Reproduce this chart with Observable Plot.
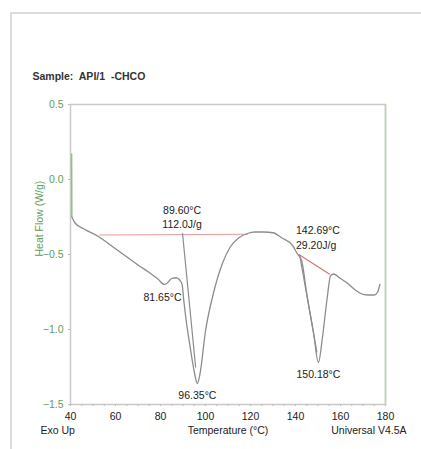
<!DOCTYPE html>
<html><head><meta charset="utf-8">
<script src="https://cdn.jsdelivr.net/npm/d3@7"></script>
<script src="https://cdn.jsdelivr.net/npm/@observablehq/plot@0.6"></script>
<style>
html,body{margin:0;padding:0;background:#fff;}
#wrap{position:relative;width:421px;height:449px;overflow:hidden;}
#border{position:absolute;left:10px;top:12px;width:430px;height:460px;border-left:2px solid #dcdcdc;border-top:2px solid #dcdcdc;}
svg{position:absolute;left:0;top:0;font-family:"Liberation Sans",Arial,sans-serif;}
</style></head>
<body><div id="wrap"><div id="border"></div></div>
<script>
// Main DSC curve
const temps = [40.6, 42, 46, 52.4, 58, 64, 70, 75, 79, 81.65, 83, 85, 87, 88.5, 89.6, 90.3, 91.5, 93, 94.5, 95.5, 96.35, 97.5, 100, 103.5, 107.5, 111, 114.7, 118.6, 122, 126, 130, 134, 138.7, 141, 142.7, 145, 148, 150.18, 152, 154, 155.6, 157, 160, 163, 166, 169, 172, 175, 176.5, 177.5];
const heatFlow = [-0.25, -0.29, -0.33, -0.38, -0.44, -0.505, -0.57, -0.62, -0.665, -0.70, -0.69, -0.66, -0.655, -0.67, -0.70, -0.80, -0.95, -1.10, -1.24, -1.32, -1.36, -1.30, -1.01, -0.76, -0.56, -0.45, -0.39, -0.36, -0.35, -0.35, -0.355, -0.39, -0.44, -0.50, -0.54, -0.76, -1.02, -1.22, -1.05, -0.80, -0.64, -0.63, -0.66, -0.69, -0.73, -0.76, -0.77, -0.77, -0.75, -0.70];
// initial transient (green)
const startT = [40.5, 40.6];
const startHF = [0.17, -0.25];
// integration baselines (red)
const base1T = [53, 118.6];
const base1HF = [-0.37, -0.365];
const base2T = [141.5, 155];
const base2HF = [-0.50, -0.63];
// onset tangents
const tan1T = [89.8, 95.6];
const tan1HF = [-0.36, -1.25];
const tan2T = [141.8, 149.5];
const tan2HF = [-0.50, -1.15];
// annotations
const notes = [
  {t: 89.6, h: -0.21, text: "89.60°C", anchor: "middle"},
  {t: 89.6, h: -0.21, text: "112.0J/g", anchor: "middle", dy: 14},
  {t: 80.9, h: -0.79, text: "81.65°C", anchor: "middle"},
  {t: 96.4, h: -1.44, text: "96.35°C", anchor: "middle"},
  {t: 140.2, h: -0.34, text: "142.69°C", anchor: "start"},
  {t: 140.2, h: -0.34, text: "29.20J/g", anchor: "start", dy: 15},
  {t: 150.18, h: -1.30, text: "150.18°C", anchor: "middle"}
];
const xTicks = [40, 60, 80, 100, 120, 140, 160, 180];
const yTicks = [0.5, 0.0, -0.5, -1.0, -1.5];

const curve = temps.map((t, i) => ({t, h: heatFlow[i]}));
const pairs = (a, b) => a.map((t, i) => ({t, h: b[i]}));
const green = "#5f9e58";
const fs = 10;

const chart = Plot.plot({
  width: 421, height: 449,
  marginLeft: 70, marginRight: 36, marginTop: 104, marginBottom: 45,
  style: {fontFamily: "Liberation Sans, Arial, sans-serif", fontSize: fs + "px", background: "transparent"},
  x: {domain: [40, 180]},
  y: {domain: [-1.5, 0.5]},
  marks: [
    Plot.frame({stroke: "#c9c9c9", strokeWidth: 1.5}),
    Plot.ruleX([180], {stroke: "#b9d6ad", strokeWidth: 1.5}),
    Plot.axisX(d3.range(40, 181, 5), {tickSize: 2, text: null, label: null, stroke: "#bbb"}),
    Plot.axisX(xTicks, {tickSize: 0, tickPadding: 8, fill: "#222", label: null, fontSize: 10.5}),
    Plot.axisY(yTicks, {tickSize: 2, tickPadding: 5, stroke: "#bbb", fill: green, tickFormat: d3.format(".1f"), label: null, fontSize: 10.5}),
    Plot.line(pairs(base1T, base1HF), {x: "t", y: "h", stroke: "#e99a9a", strokeWidth: 1.2}),
    Plot.line(pairs(base2T, base2HF), {x: "t", y: "h", stroke: "#d97272", strokeWidth: 1.2}),
    Plot.line(pairs(tan1T, tan1HF), {x: "t", y: "h", stroke: "#8c8c8c", strokeWidth: 1.2}),
    Plot.line(pairs(tan2T, tan2HF), {x: "t", y: "h", stroke: "#8c8c8c", strokeWidth: 1.2}),
    Plot.line(pairs(startT, startHF), {x: "t", y: "h", stroke: "#8cc47e", strokeWidth: 1.5}),
    Plot.line(curve, {x: "t", y: "h", stroke: "#8c8c8c", strokeWidth: 1.3, curve: "monotone-x"}),
    Plot.text(notes.filter(d => d.anchor === "middle" && !d.dy), {x: "t", y: "h", text: "text", textAnchor: "middle", fill: "#222", fontSize: 10.5}),
    Plot.text(notes.filter(d => d.anchor === "middle" && d.dy), {x: "t", y: "h", text: "text", textAnchor: "middle", dy: 14, fill: "#222", fontSize: 10.5}),
    Plot.text(notes.filter(d => d.anchor === "start" && !d.dy), {x: "t", y: "h", text: "text", textAnchor: "start", fill: "#222", fontSize: 10.5}),
    Plot.text(notes.filter(d => d.anchor === "start" && d.dy), {x: "t", y: "h", text: "text", textAnchor: "start", dy: 15, fill: "#222", fontSize: 10.5}),
    // titles around the frame
    Plot.text(["Sample:  API/1  -CHCO"], {frameAnchor: "top-left", dx: -38, dy: -32, textAnchor: "start", fontWeight: "bold", fill: "#333", fontSize: 10.5}),
    Plot.text(["Heat Flow (W/g)"], {frameAnchor: "left", dx: -31, dy: 2, rotate: -90, fill: green, fontSize: 10.5}),
    Plot.text(["Exo Up"], {frameAnchor: "bottom-left", dx: -30, dy: 29, textAnchor: "start", fill: "#222", fontSize: 10.5}),
    Plot.text(["Temperature (°C)"], {frameAnchor: "bottom", dx: 0, dy: 29, fill: "#222", fontSize: 10.5}),
    Plot.text(["Universal V4.5A"], {frameAnchor: "bottom-right", dx: 21, dy: 29, textAnchor: "end", fill: "#222", fontSize: 10.5})
  ]
});
document.getElementById("wrap").appendChild(chart);
</script>
</body></html>
